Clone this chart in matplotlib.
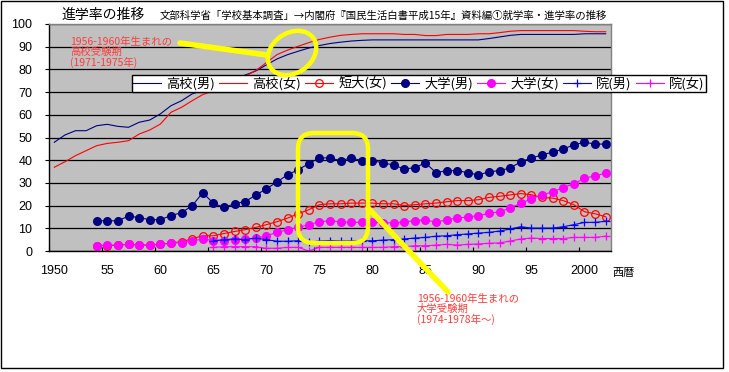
import numpy as np
import matplotlib
matplotlib.use('Agg')
import matplotlib.pyplot as plt
from matplotlib.patches import Ellipse, FancyBboxPatch, Rectangle
from matplotlib.lines import Line2D
import matplotlib.transforms as mtransforms

plt.rcParams['font.family'] = ['Liberation Sans', 'Noto Sans CJK JP']
JP = ['Noto Sans CJK JP', 'DejaVu Sans']

years = list(range(1950, 2003))
nan = np.nan

# 高校(男), 高校(女): 1950-2002
hs_male = [47.9, 51.1, 53.0, 53.0, 55.2, 55.8, 54.9, 54.5, 56.7, 57.7,
           60.4, 64.0, 66.2, 69.2, 70.8, 72.5, 74.2, 75.8, 77.5, 79.3,
           82.0, 84.6, 86.5, 88.0, 89.4, 90.5, 91.4, 92.0, 92.5, 92.8,
           93.0, 93.0, 93.0, 93.0, 93.0, 93.0, 93.0, 93.0, 93.0, 93.0,
           93.0, 93.6, 94.3, 95.0, 95.4, 95.4, 95.4, 95.4, 95.4, 95.4,
           95.7, 95.7, 95.7]
hs_female = [36.9, 39.3, 42.0, 44.2, 46.4, 47.4, 47.9, 48.6, 51.5, 53.3,
             55.9, 61.1, 63.3, 66.2, 68.9, 70.5, 72.5, 74.8, 77.0, 79.5,
             83.0, 86.5, 88.5, 90.2, 91.8, 93.2, 94.2, 95.0, 95.4, 95.7,
             95.7, 95.7, 95.7, 95.4, 95.4, 94.9, 94.9, 95.4, 95.4, 95.4,
             95.7, 95.7, 96.2, 96.8, 97.1, 97.1, 97.1, 97.1, 97.1, 97.1,
             96.8, 96.6, 96.6]

# 短大(女), 大学(男), 大学(女): 1954-2002
jc_female = [nan] * 4 + [
    2.2, 2.4, 2.5, 3.0, 2.6, 2.6,
    3.0, 3.5, 4.1, 5.4, 6.7, 6.7, 7.7, 8.6, 9.4, 10.4,
    11.6, 12.9, 14.5, 16.4, 18.2, 20.4, 20.8, 20.8, 21.1, 21.1,
    21.1, 20.8, 20.8, 20.0, 20.4, 20.8, 21.1, 21.7, 22.2, 22.2,
    22.6, 23.6, 24.1, 24.7, 25.3, 24.8, 23.6, 23.3, 22.2, 20.4,
    17.3, 16.4, 15.1]
univ_male = [nan] * 4 + [
    13.3, 13.3, 13.3, 15.4, 14.7, 13.8,
    13.8, 15.6, 16.9, 19.9, 25.7, 21.0, 19.2, 20.8, 21.8, 24.6,
    27.4, 30.4, 33.6, 35.8, 38.5, 41.0, 41.0, 39.8, 41.0, 39.8,
    39.8, 38.8, 37.9, 36.1, 36.7, 38.8, 34.5, 35.4, 35.4, 34.5,
    33.5, 34.9, 35.4, 36.6, 39.3, 41.0, 42.3, 43.6, 44.9, 46.8,
    47.9, 47.1, 47.1]
univ_female = [nan] * 4 + [
    2.4, 2.6, 2.6, 2.9, 2.6, 2.6,
    2.9, 3.4, 3.7, 4.4, 5.3, 4.6, 4.6, 5.0, 5.3, 5.7,
    6.7, 8.2, 9.4, 10.4, 11.6, 12.9, 13.3, 12.9, 12.6, 12.6,
    12.6, 12.4, 12.4, 12.9, 13.3, 13.8, 12.6, 13.8, 14.5, 15.0,
    15.6, 16.6, 17.3, 18.9, 21.1, 22.9, 24.7, 26.1, 27.9, 29.7,
    32.0, 33.2, 34.2]

# 院(男), 院(女): 1965-2002
grad_male = [nan] * 15 + [
    4.5, 5.0, 5.3, 5.0, 5.7,
    5.0, 4.3, 4.3, 4.5, 3.8, 4.4, 4.6, 4.4, 4.4, 4.5,
    4.5, 4.8, 5.0, 5.3, 5.7, 6.0, 6.5, 6.7, 7.2, 7.5,
    7.9, 8.2, 8.8, 9.7, 10.7, 10.1, 10.1, 10.1, 10.7, 11.6,
    12.6, 12.6, 13.1]
grad_female = [nan] * 15 + [
    1.6, 1.9, 1.9, 1.9, 1.9,
    1.2, 1.2, 1.6, 1.6, 0.0, 1.6, 1.6, 1.6, 1.6, 1.6,
    1.6, 1.6, 1.9, 1.9, 2.3, 2.3, 2.6, 2.9, 2.6, 2.9,
    3.1, 3.4, 3.6, 4.4, 5.3, 5.7, 5.5, 5.5, 5.5, 6.0,
    6.0, 6.0, 6.5]

labels = ['高校(男)', '高校(女)', '短大(女)', '大学(男)', '大学(女)', '院(男)', '院(女)']
xtick_labels = ['1950', '55', '60', '65', '70', '75', '80', '85', '90', '95', '2000']

W, H = 729, 372
fig = plt.figure(figsize=(W / 100, H / 100), dpi=100)
ax = fig.add_axes([49 / W, 1 - 251 / H, (611 - 49) / W, (251 - 24) / H])
ax.set_facecolor('#c0c0c0')

navy, red, mag, blue = '#000080', '#ff0000', '#ff00ff', '#0000ff'
lw = 0.8
h1, = ax.plot(years, hs_male, color=navy, lw=lw)
h2, = ax.plot(years, hs_female, color=red, lw=lw)
h3, = ax.plot(years, jc_female, color=red, lw=lw, marker='o', ms=5.5,
              mfc='none', mec=red, mew=0.9)
h4, = ax.plot(years, univ_male, color=navy, lw=lw, marker='o', ms=5.5,
              mfc=navy, mec=navy)
h5, = ax.plot(years, univ_female, color=mag, lw=lw, marker='o', ms=5.5,
              mfc=mag, mec=mag)
h6, = ax.plot(years, grad_male, color=blue, lw=lw, marker='+', ms=6, mew=0.9)
h7, = ax.plot(years, grad_female, color=mag, lw=lw, marker='+', ms=6, mew=0.9)

ax.set_xlim(1949.5, 2002.5)
ax.set_ylim(0, 100)
ax.set_yticks(range(0, 101, 10))
ax.yaxis.grid(True, color='black', lw=0.9)
ax.set_axisbelow(True)
ax.tick_params(axis='y', direction='out', length=3, width=0.8, pad=9, labelsize=9)

ax.set_xticks([1949.5 + 5 * k for k in range(11)])
ax.set_xticklabels([])
ax.tick_params(axis='x', which='major', direction='in', length=3, width=0.8)
ax.set_xticks([1950 + 5 * k for k in range(11)], minor=True)
ax.set_xticklabels(xtick_labels, minor=True)
ax.tick_params(axis='x', which='minor', length=0, pad=10, labelsize=9)

for s in ['left', 'bottom']:
    ax.spines[s].set_color('black')
    ax.spines[s].set_linewidth(1)
for s in ['top', 'right']:
    ax.spines[s].set_color('#808080')
    ax.spines[s].set_linewidth(1)

leg = fig.legend([h1, h2, h3, h4, h5, h6, h7], labels, ncol=7, mode='expand',
                 loc='lower left',
                 bbox_to_anchor=(131.7 / W, 1 - 92 / H, (705.7 - 131.7) / W, 20 / H),
                 prop={'family': JP, 'size': 9.5}, frameon=True, fancybox=False,
                 edgecolor='black', facecolor='white', framealpha=1, borderpad=0.1,
                 handlelength=2.1, handletextpad=0.4, borderaxespad=0)
leg.get_frame().set_linewidth(1)
leg.set_zorder(20)

# pixel coordinates (top-left origin) for annotations
px = mtransforms.Affine2D().scale(1, -1).translate(0, H).scale(1 / 100) + fig.dpi_scale_trans

fig.text(62, 15, '進学率の推移', transform=px, family=JP, fontsize=10, va='center')
fig.text(160, 16, '文部科学省「学校基本調査」→内閣府『国民生活白書平成15年』資料編①就学率・進学率の推移',
         transform=px, family=JP, fontsize=7.5, va='center')
fig.text(612, 273, '西暦', transform=px, family=JP, fontsize=8, va='center')

fig.text(70, 37, '1956-1960年生まれの\n高校受験期\n(1971-1975年)', transform=px,
         family=JP, fontsize=7.5, color='#ff3b3b', va='top', linespacing=0.95)
fig.text(417, 294, '1956-1960年生まれの\n大学受験期\n(1974-1978年～)', transform=px,
         family=JP, fontsize=7.5, color='#ff3b3b', va='top', linespacing=0.95)

yel = '#ffff00'
fig.add_artist(Ellipse((292, 53), 52, 40, angle=-35, transform=px, fill=False,
                       ec=yel, lw=3.2, zorder=30))
fig.add_artist(Line2D([180, 267], [43, 55], transform=px, color=yel, lw=4,
                      solid_capstyle='round', zorder=30))
fig.add_artist(FancyBboxPatch((298, 133), 70, 110, transform=px, fill=False,
                              boxstyle='round,pad=0,rounding_size=16',
                              ec=yel, lw=3.2, zorder=30))
fig.add_artist(Line2D([368, 448], [208, 292], transform=px, color=yel, lw=4,
                      solid_capstyle='round', zorder=30))

fig.add_artist(Rectangle((0.5, 0.5), 722.5, 367, transform=px, fill=False,
                         ec='black', lw=1, zorder=31))

fig.savefig('out.png', dpi=100)
